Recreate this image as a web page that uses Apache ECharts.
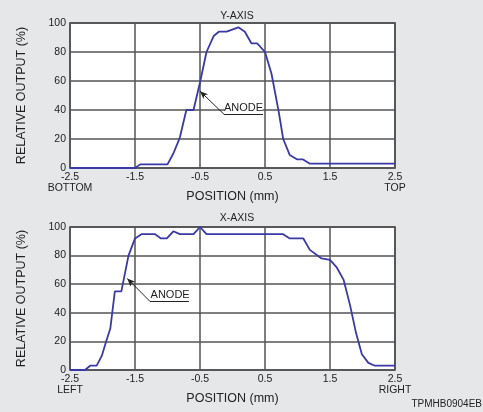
<!DOCTYPE html>
<html>
<head>
<meta charset="utf-8">
<script src="https://cdn.jsdelivr.net/npm/echarts@6/dist/echarts.min.js"></script>
<style>
  html, body { margin: 0; padding: 0; background: #e6e7e9; }
  #chart { width: 483px; height: 412px; }
</style>
</head>
<body>
<div id="chart"></div>
<script>
// Y-AXIS scan (top chart)
const yScanPos = [-2.5, -1.5, -1.42, -1.0, -0.91, -0.81, -0.71, -0.6, -0.5, -0.4, -0.29, -0.21, -0.09, 0.09, 0.19, 0.29, 0.38, 0.5, 0.6, 0.71, 0.78, 0.88, 0.99, 1.08, 1.19, 2.5];
const yScanOut = [0, 0, 2.5, 2.5, 10, 21, 40, 40, 59, 80, 91, 94, 94, 97, 94, 86, 86, 80, 65, 39, 20, 9, 6, 6, 3, 3];

// X-AXIS scan (bottom chart)
const xScanPos = [-2.5, -2.27, -2.19, -2.09, -2.01, -1.95, -1.88, -1.81, -1.71, -1.6, -1.5, -1.4, -1.19, -1.1, -1.01, -0.91, -0.81, -0.6, -0.5, -0.4, 0.78, 0.88, 1.09, 1.19, 1.37, 1.5, 1.6, 1.71, 1.81, 1.9, 1.99, 2.09, 2.19, 2.5];
const xScanOut = [0, 0, 3, 3, 10, 19, 29, 55, 55, 80, 92, 95, 95, 92, 92, 97, 95, 95, 100, 95, 95, 92, 92, 84, 78, 77, 72, 63, 45, 26, 11, 5, 3, 3];

const yTicks = [0, 20, 40, 60, 80, 100];
const topEnds = ['BOTTOM', 'TOP'];
const bottomEnds = ['LEFT', 'RIGHT'];

const lineColor = '#3a3aa6';
const gridColor = '#555';
const textColor = '#222';
const font = 'Liberation Sans, Arial, sans-serif';

function pairs(xs, ys) {
  return xs.map((x, i) => [x, ys[i]]);
}

function xAxisFor(gridIndex, ends) {
  return {
    type: 'value', gridIndex: gridIndex,
    min: -2.5, max: 2.5, interval: 1,
    name: 'POSITION (mm)', nameLocation: 'middle', nameGap: 22, nameMoveOverlap: false,
    nameTextStyle: { color: textColor, fontSize: 12.5, fontFamily: font },
    axisLine: { show: false }, axisTick: { show: false },
    axisLabel: {
      color: textColor, fontSize: 10.5, fontFamily: font, margin: 3, lineHeight: 11.5,
      formatter: v => {
        if (v === -2.5) return '-2.5\n' + ends[0];
        if (v === 2.5) return '2.5\n' + ends[1];
        return String(v);
      }
    },
    splitLine: { show: true, lineStyle: { color: gridColor, width: 1.5 } }
  };
}

function yAxisFor(gridIndex) {
  return {
    type: 'value', gridIndex: gridIndex,
    min: yTicks[0], max: yTicks[yTicks.length - 1], interval: 20,
    name: 'RELATIVE OUTPUT (%)', nameLocation: 'middle', nameGap: 42, nameMoveOverlap: false,
    nameTextStyle: { color: textColor, fontSize: 12.5, fontFamily: font },
    axisLine: { show: false }, axisTick: { show: false },
    axisLabel: { color: textColor, fontSize: 10.5, fontFamily: font, margin: 4 },
    splitLine: { show: true, lineStyle: { color: gridColor, width: 1.5 } }
  };
}

function anode(tip, bend, end, label) {
  return {
    markLine: {
      silent: true, animation: false,
      lineStyle: { color: '#222', width: 1, type: 'solid' },
      label: { show: false },
      data: [
        [{ coord: end, symbol: 'none' }, { coord: bend, symbol: 'none' }],
        [{ coord: bend, symbol: 'none' }, { coord: tip, symbol: 'arrow', symbolSize: [5, 8] }]
      ]
    },
    markPoint: {
      silent: true, animation: false,
      symbol: 'rect', symbolSize: [38, 11],
      itemStyle: { color: '#fff' },
      label: { show: true, position: 'inside', color: textColor, fontSize: 11, fontFamily: font, formatter: 'ANODE' },
      data: [{ coord: label }]
    }
  };
}

const myChart = echarts.init(document.getElementById('chart'));

const option = {
  backgroundColor: '#e6e7e9',
  animation: false,
  title: [
    { text: 'Y-AXIS', left: 232, top: 6, textAlign: 'center', textStyle: { fontSize: 10.5, fontWeight: 'normal', color: textColor, fontFamily: font } },
    { text: 'X-AXIS', left: 232, top: 208, textAlign: 'center', textStyle: { fontSize: 10.5, fontWeight: 'normal', color: textColor, fontFamily: font } },
    { text: 'TPMHB0904EB', right: -4, top: 394, textStyle: { fontSize: 10, fontWeight: 'normal', color: textColor, fontFamily: font } }
  ],
  grid: [
    { left: 70, right: 88, top: 23, height: 145, show: true, backgroundColor: '#fff', borderColor: '#333', borderWidth: 1.5 },
    { left: 70, right: 88, top: 227, height: 143, show: true, backgroundColor: '#fff', borderColor: '#333', borderWidth: 1.5 }
  ],
  xAxis: [xAxisFor(0, topEnds), xAxisFor(1, bottomEnds)],
  yAxis: [yAxisFor(0), yAxisFor(1)],
  series: [
    Object.assign({
      type: 'line', xAxisIndex: 0, yAxisIndex: 0,
      data: pairs(yScanPos, yScanOut),
      showSymbol: false, lineStyle: { color: lineColor, width: 1.8 }
    }, anode([-0.5, 53], [-0.13, 37], [0.47, 37], [0.17, 41.5])),
    Object.assign({
      type: 'line', xAxisIndex: 1, yAxisIndex: 1,
      data: pairs(xScanPos, xScanOut),
      showSymbol: false, lineStyle: { color: lineColor, width: 1.8 }
    }, anode([-1.62, 64], [-1.27, 48], [-0.67, 48], [-0.96, 52.5]))
  ]
};

myChart.setOption(option);
</script>
</body>
</html>
